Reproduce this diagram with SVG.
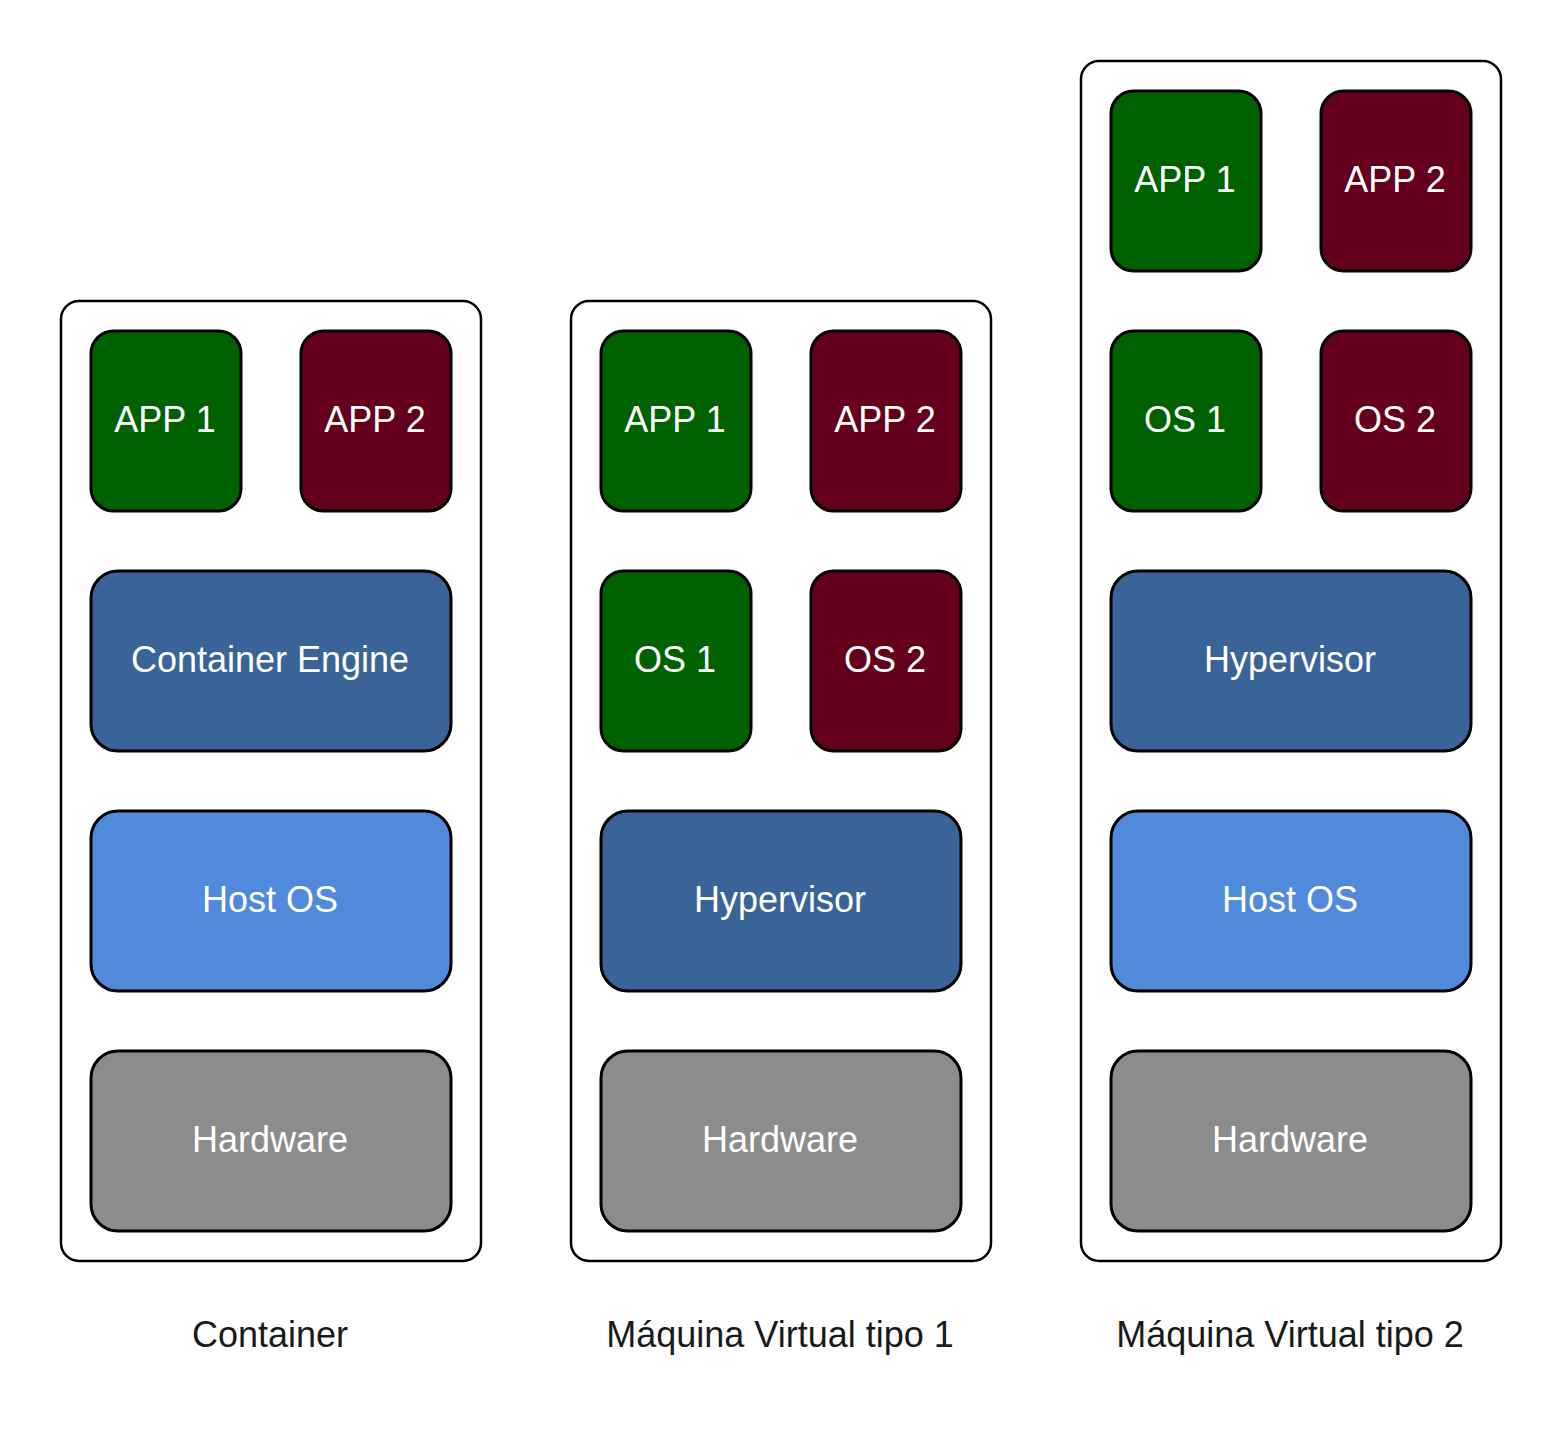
<svg xmlns="http://www.w3.org/2000/svg" width="1563" height="1443" viewBox="0 0 1563 1443">
<style>
.outer{fill:#ffffff;stroke:#000000;stroke-width:2.5}
.box{stroke:#000000;stroke-width:3}
.g{fill:#006100}
.r{fill:#64001C}
.b{fill:#3A6397}
.l{fill:#518ADB}
.h{fill:#8C8C8C}
.t{font-family:"Liberation Sans",Arial,sans-serif;font-size:36px;fill:#ffffff;text-anchor:middle}
.cap{font-family:"Liberation Sans",Arial,sans-serif;font-size:36px;fill:#1a1a1a;text-anchor:middle}
</style>
<rect width="1563" height="1443" fill="#ffffff"/>
<g id="connectors"></g>

<g id="col1">
<rect class="outer" x="61" y="301" width="420" height="960" rx="18"/>
</g>
<g id="c1-app1"><rect class="box g" x="91" y="331" width="150" height="180" rx="22.5"/><text class="t" x="165" y="432">APP 1</text></g>
<g id="c1-app2"><rect class="box r" x="301" y="331" width="150" height="180" rx="22.5"/><text class="t" x="375" y="432">APP 2</text></g>
<g id="c1-engine"><rect class="box b" x="91" y="571" width="360" height="180" rx="27"/><text class="t" x="270" y="672">Container Engine</text></g>
<g id="c1-hostos"><rect class="box l" x="91" y="811" width="360" height="180" rx="27"/><text class="t" x="270" y="912">Host OS</text></g>
<g id="c1-hw"><rect class="box h" x="91" y="1051" width="360" height="180" rx="27"/><text class="t" x="270" y="1152">Hardware</text></g>
<g id="c1-label"><text class="cap" x="270" y="1347">Container</text></g>

<g id="col2">
<rect class="outer" x="571" y="301" width="420" height="960" rx="18"/>
</g>
<g id="c2-app1"><rect class="box g" x="601" y="331" width="150" height="180" rx="22.5"/><text class="t" x="675" y="432">APP 1</text></g>
<g id="c2-app2"><rect class="box r" x="811" y="331" width="150" height="180" rx="22.5"/><text class="t" x="885" y="432">APP 2</text></g>
<g id="c2-os1"><rect class="box g" x="601" y="571" width="150" height="180" rx="22.5"/><text class="t" x="675" y="672">OS 1</text></g>
<g id="c2-os2"><rect class="box r" x="811" y="571" width="150" height="180" rx="22.5"/><text class="t" x="885" y="672">OS 2</text></g>
<g id="c2-hyp"><rect class="box b" x="601" y="811" width="360" height="180" rx="27"/><text class="t" x="780" y="912">Hypervisor</text></g>
<g id="c2-hw"><rect class="box h" x="601" y="1051" width="360" height="180" rx="27"/><text class="t" x="780" y="1152">Hardware</text></g>
<g id="c2-label"><text class="cap" x="780" y="1347">Máquina Virtual tipo 1</text></g>

<g id="col3">
<rect class="outer" x="1081" y="61" width="420" height="1200" rx="18"/>
</g>
<g id="c3-app1"><rect class="box g" x="1111" y="91" width="150" height="180" rx="22.5"/><text class="t" x="1185" y="192">APP 1</text></g>
<g id="c3-app2"><rect class="box r" x="1321" y="91" width="150" height="180" rx="22.5"/><text class="t" x="1395" y="192">APP 2</text></g>
<g id="c3-os1"><rect class="box g" x="1111" y="331" width="150" height="180" rx="22.5"/><text class="t" x="1185" y="432">OS 1</text></g>
<g id="c3-os2"><rect class="box r" x="1321" y="331" width="150" height="180" rx="22.5"/><text class="t" x="1395" y="432">OS 2</text></g>
<g id="c3-hyp"><rect class="box b" x="1111" y="571" width="360" height="180" rx="27"/><text class="t" x="1290" y="672">Hypervisor</text></g>
<g id="c3-hostos"><rect class="box l" x="1111" y="811" width="360" height="180" rx="27"/><text class="t" x="1290" y="912">Host OS</text></g>
<g id="c3-hw"><rect class="box h" x="1111" y="1051" width="360" height="180" rx="27"/><text class="t" x="1290" y="1152">Hardware</text></g>
<g id="c3-label"><text class="cap" x="1290" y="1347">Máquina Virtual tipo 2</text></g>
</svg>
